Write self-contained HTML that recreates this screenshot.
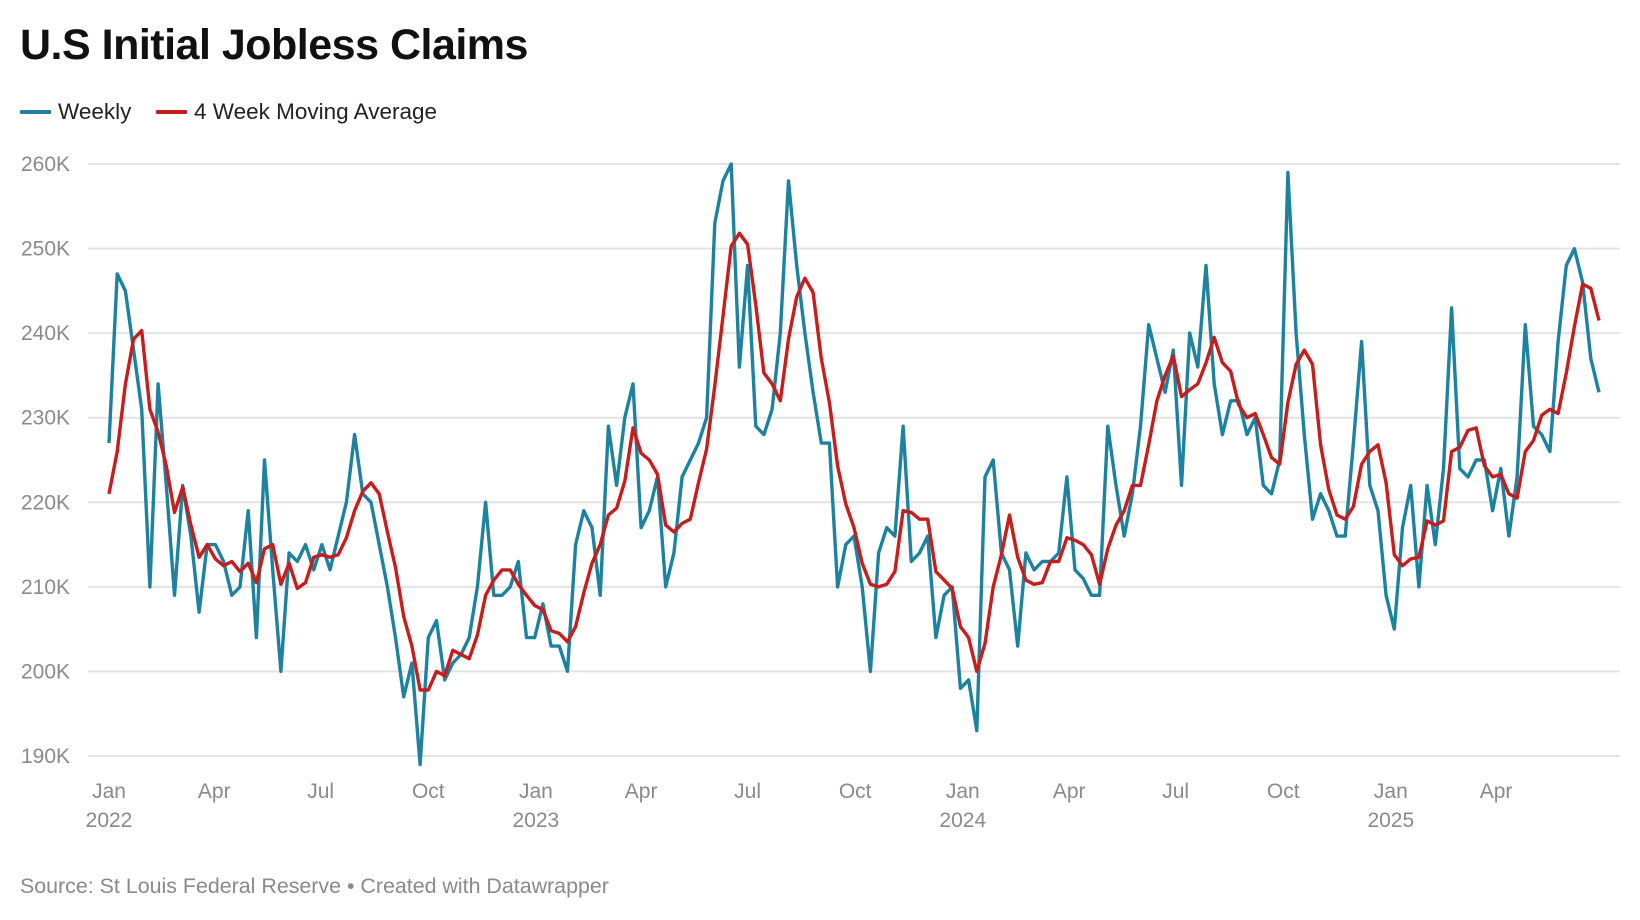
<!DOCTYPE html>
<html><head><meta charset="utf-8">
<style>
html,body{margin:0;padding:0;background:#fff;}
body{width:1640px;height:920px;overflow:hidden;font-family:"Liberation Sans",sans-serif;position:relative;}
#title{position:absolute;left:20px;top:21px;font-size:43px;font-weight:bold;color:#111;letter-spacing:-0.5px;margin:0;}
.leg{position:absolute;top:99px;font-size:22.5px;color:#222;display:flex;align-items:center;}
.sw{display:inline-block;width:31px;height:4px;margin-right:7px;border-radius:1px;}
#source{position:absolute;left:20px;top:874px;font-size:21.4px;color:#8a8a8a;}
svg{position:absolute;left:0;top:0;}
</style></head>
<body>
<h1 id="title">U.S Initial Jobless Claims</h1>
<div class="leg" style="left:20px"><span class="sw" style="background:#1d82a0"></span>Weekly</div>
<div class="leg" style="left:156px"><span class="sw" style="background:#c71e1d"></span>4 Week Moving Average</div>
<svg id="chart" width="1640" height="920"></svg>
<div id="source">Source: St Louis Federal Reserve • Created with Datawrapper</div>
<script>
const startDate = "2022-01-01";
const weekly = [227,247,245,238,231,210,234,222,209,222,216,207,215,215,213,209,210,219,204,225,212,200,214,213,215,212,215,212,216,220,228,221,220,215,210,204,197,201,189,204,206,199,201,202,204,210,220,209,209,210,213,204,
204,208,203,203,200,215,219,217,209,229,222,230,234,217,219,223,210,214,223,225,227,230,253,258,260,236,248,229,228,231,240,258,248,240,233,227,227,210,215,216,210,200,214,217,216,229,213,214,216,204,209,210,198,199,193,223,225,214,212,203,214,212,213,213,214,223,212,211,209,209,229,222,216,221,229,241,237,233,238,222,240,236,248,234,228,232,232,228,230,222,221,225,259,240,228,218,221,219,216,216,227,239,222,219,209,205,217,222,210,222,215,224,243,224,223,225,225,219,224,216,223,241,229,228,226,239,248,250,246,237,233];
const movingAvg = [221,226,234,239.3,240.3,231,228.3,224.3,218.8,221.8,217.3,213.5,215,213.3,212.5,213,211.8,212.8,210.5,214.5,215,210.3,212.8,209.8,210.5,213.5,213.8,213.5,213.8,215.8,219,221.3,222.3,221,216.5,212.3,206.5,203,197.8,197.8,200,199.5,202.5,202,201.5,204.3,209,210.8,212,212,210.3,209,207.8,207.3,204.8,204.5,203.5,205.3,209.3,212.8,215,218.5,219.3,222.5,228.8,225.8,225,223.3,217.3,216.5,217.5,218,222.3,226.3,233.8,242,250.3,251.8,250.5,243.3,235.3,234,232,239.3,244.3,246.5,244.8,237,231.8,224.3,219.8,217,212.8,210.3,210,210.3,211.8,219,218.8,218,218,211.8,210.8,209.8,205.3,204,200,203.3,210,213.8,218.5,213.5,210.8,210.3,210.5,213,213,215.8,215.5,215,213.8,210.3,214.5,217.3,219,222,222,226.8,232,235,237.3,232.5,233.3,234,236.5,239.5,236.5,235.5,231.5,230,230.5,228,225.3,224.5,231.8,236.3,238,236.3,226.8,221.5,218.5,218,219.5,224.5,226,226.8,222.3,213.8,212.5,213.3,213.5,217.8,217.3,217.8,226,226.5,228.5,228.8,224.3,223,223.3,221,220.5,226,227.3,230.3,231,230.5,235.3,240.8,245.8,245.3,241.5];
const yTicks = [190,200,210,220,230,240,250,260];
const yTickLabels = ["190K","200K","210K","220K","230K","240K","250K","260K"];
const xTickDates = ["2022-01-01","2022-04-01","2022-07-01","2022-10-01","2023-01-01","2023-04-01","2023-07-01","2023-10-01","2024-01-01","2024-04-01","2024-07-01","2024-10-01","2025-01-01","2025-04-01"];
const xTickMonths = ["Jan","Apr","Jul","Oct","Jan","Apr","Jul","Oct","Jan","Apr","Jul","Oct","Jan","Apr"];
const xTickYears = ["2022","","","","2023","","","","2024","","","","2025",""];

const NS="http://www.w3.org/2000/svg";
const svg=document.getElementById('chart');
const X0=109, STEP=(1599-109)/182, YTOP=164, YBOT=756, VMIN=190, VMAX=260;
const day0=Date.parse(startDate);
function xIdx(i){return X0+i*STEP;}
function xDate(s){return X0+((Date.parse(s)-day0)/86400000/7)*STEP;}
function yV(v){return YBOT-(v-VMIN)/(VMAX-VMIN)*(YBOT-YTOP);}
function mk(t,a){const e=document.createElementNS(NS,t);for(const k in a)e.setAttribute(k,a[k]);svg.appendChild(e);return e;}

yTicks.forEach((v,i)=>{
  const g=mk('line',{x1:88,x2:1620,y1:yV(v),y2:yV(v),stroke:'#e3e3e3','stroke-width':2});
  
  
  const t=mk('text',{x:21,y:yV(v)+7,'font-size':21,fill:'#8a8a8a','font-family':'Liberation Sans, sans-serif'});
  t.textContent=yTickLabels[i];
  
  
});
xTickDates.forEach((d,i)=>{
  const x=xDate(d);
  const t=mk('text',{x:x,y:798,'font-size':21,fill:'#8a8a8a','text-anchor':'middle','font-family':'Liberation Sans, sans-serif'});
  t.textContent=xTickMonths[i];
  
  
  if(xTickYears[i]){
    const y=mk('text',{x:x,y:827,'font-size':21,fill:'#8a8a8a','text-anchor':'middle','font-family':'Liberation Sans, sans-serif'});
    y.textContent=xTickYears[i];
    
    
  }
});
function pts(arr){return arr.map((v,i)=>xIdx(i).toFixed(1)+','+yV(v).toFixed(1)).join(' ');}
const l1=mk('polyline',{points:pts(weekly),fill:'none',stroke:'#1d82a0','stroke-width':3.4,'stroke-linejoin':'round'});


const l2=mk('polyline',{points:pts(movingAvg),fill:'none',stroke:'#c71e1d','stroke-width':3.4,'stroke-linejoin':'round'});


</script>
</body></html>
